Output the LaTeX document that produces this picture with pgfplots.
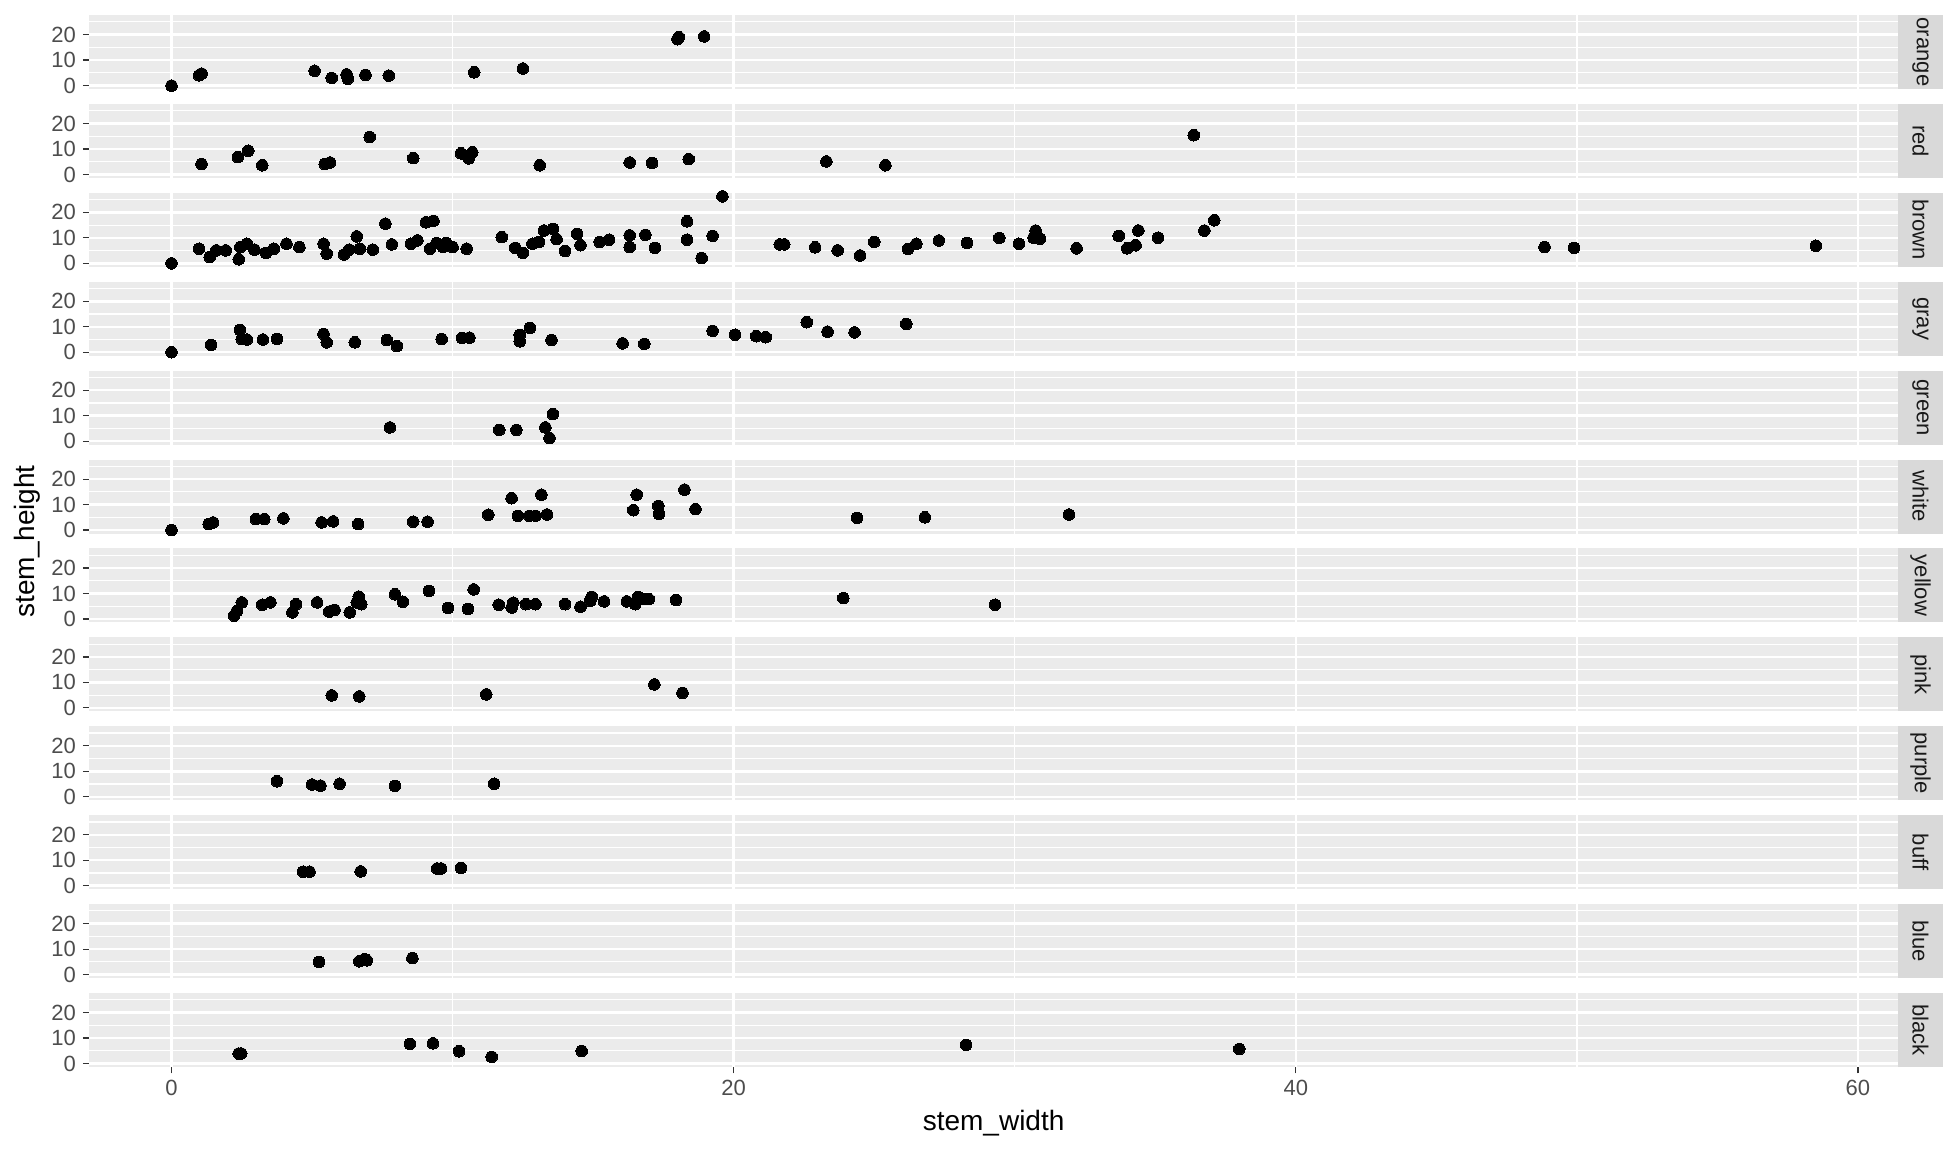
\documentclass[border=0pt]{standalone}
\usepackage{fontspec}
\setmainfont{Liberation Sans}
\usepackage{pgfplots}
\pgfplotsset{compat=1.18}

\definecolor{panelbg}{HTML}{EBEBEB}
\definecolor{stripbg}{HTML}{D9D9D9}
\definecolor{ticktext}{HTML}{4D4D4D}
\definecolor{tickmark}{HTML}{333333}
\definecolor{striptext}{HTML}{1A1A1A}

\pgfplotsset{
  panel/.style={
    scale only axis, width=904.35pt, height=37pt, anchor=south west,
    xmin=-2.925, xmax=61.425, ymin=-1.35, ymax=27.7,
    axis background/.style={fill=panelbg},
    axis line style={draw=none},
    xtick={0,20,40,60}, minor xtick={10,30,50},
    ytick={0,10,20}, minor ytick={5,15,25},
    grid=both,
    major grid style={white, line width=1.2pt},
    minor grid style={white, line width=0.6pt},
    tick align=outside, xtick pos=bottom, ytick pos=left,
    major tick length=3.2pt, minor tick length=0pt,
    tick style={tickmark, line width=0.6pt},
    xticklabels={}, xtick style={draw=none},
    ticklabel style={font=\fontsize{11}{11}\selectfont, text=ticktext},
    /pgf/number format/assume math mode=true,
  },
  pts/.style={only marks, mark=*, mark size=2.9pt, black, mark options={line width=0pt}},
}

\begin{document}
\begin{tikzpicture}
\useasboundingbox (0,0) rectangle (979pt,-576pt);

% orange
\begin{axis}[panel, at={(44.65pt,-44.5pt)}, name=p0]
\addplot[pts] table {
0 0
0.98 4.0
1.07 4.7
5.09 5.8
5.7 3.0
6.23 4.4
6.27 2.7
6.9 4.2
7.73 3.9
10.77 5.2
12.5 6.7
18.0 18.2
18.05 19.0
18.95 19.3
};
\end{axis}

% red
\begin{axis}[panel, at={(44.65pt,-88.95pt)}, name=p1]
\addplot[pts] table {
1.07 4.1
2.36 6.8
2.73 9.3
3.23 3.6
5.45 4.1
5.64 4.7
7.05 14.7
8.6 6.4
10.3 8.3
10.57 6.3
10.7 8.7
13.1 3.6
16.3 4.7
17.1 4.5
18.4 6.0
23.3 5.1
25.4 3.6
36.37 15.4
};
\end{axis}

% brown
\begin{axis}[panel, at={(44.65pt,-133.4pt)}, name=p2]
\addplot[pts] table {
0 0
0.98 5.75
1.36 2.5
1.59 5.1
1.93 5.1
2.39 1.6
2.45 6.4
2.68 7.7
2.95 5.4
3.36 4.1
3.64 5.75
4.09 7.7
4.55 6.4
5.41 7.7
5.52 3.8
6.14 3.5
6.32 5.4
6.59 10.6
6.7 5.75
7.16 5.4
7.61 15.6
7.84 7.45
8.52 7.7
8.75 9.0
9.05 16.1
9.32 16.7
9.2 5.75
9.43 8.0
9.66 6.4
9.77 8.0
10.0 6.4
10.5 5.75
11.75 10.3
12.23 6.1
12.5 4.1
12.84 7.7
13.07 8.4
13.25 12.9
13.57 13.5
13.7 9.5
14.0 4.8
14.43 11.6
14.55 7.1
15.23 8.4
15.57 9.3
16.3 11.0
16.3 6.4
16.86 11.2
17.2 6.1
18.34 16.5
18.34 9.3
18.86 2.1
19.25 10.8
19.6 26.3
21.64 7.45
21.8 7.45
22.9 6.3
23.7 5.1
24.5 3.1
25.0 8.4
26.2 5.6
26.5 7.7
27.3 9.0
28.3 8.0
29.45 10.0
30.15 7.7
30.74 12.9
30.67 10.1
30.9 9.7
32.2 5.9
33.7 10.8
34.0 5.9
34.3 7.1
34.4 12.9
35.1 10.1
36.75 12.9
37.1 16.9
48.85 6.4
49.9 6.1
58.5 6.9
};
\end{axis}

% gray
\begin{axis}[panel, at={(44.65pt,-177.85pt)}, name=p3]
\addplot[pts] table {
0 0
1.41 2.9
2.43 8.8
2.5 5.2
2.68 5.0
3.25 5.0
3.75 5.2
5.41 7.2
5.52 3.9
6.52 3.9
7.66 4.8
8.02 2.4
9.61 5.2
10.34 5.6
10.6 5.75
12.39 6.8
12.39 4.3
12.75 9.5
13.52 4.8
16.05 3.5
16.82 3.3
19.25 8.4
20.05 6.9
20.8 6.3
21.14 5.9
22.6 11.8
23.34 8.1
24.3 7.8
26.14 11.1
};
\end{axis}

% green
\begin{axis}[panel, at={(44.65pt,-222.3pt)}, name=p4]
\addplot[pts] table {
7.77 5.4
11.66 4.4
12.27 4.4
13.3 5.4
13.45 1.2
13.57 10.6
};
\end{axis}

% white
\begin{axis}[panel, at={(44.65pt,-266.75pt)}, name=p5]
\addplot[pts] table {
0 0
1.32 2.35
1.48 3.0
3.0 4.3
3.3 4.3
3.98 4.6
5.34 3.0
5.75 3.4
6.64 2.35
8.6 3.3
9.11 3.3
11.27 6.0
12.1 12.5
12.32 5.6
12.73 5.6
12.95 5.6
13.16 13.9
13.36 6.1
16.43 7.8
16.55 13.9
17.32 9.5
17.34 6.3
18.25 15.9
18.64 8.2
24.39 4.8
26.8 5.0
31.93 6.1
};
\end{axis}

% yellow
\begin{axis}[panel, at={(44.65pt,-311.2pt)}, name=p6]
\addplot[pts] table {
2.23 1.3
2.32 3.0
2.5 6.5
3.23 5.6
3.52 6.5
4.3 2.6
4.43 5.8
5.18 6.5
5.61 2.9
5.8 3.6
6.34 2.6
6.59 6.5
6.66 8.8
6.75 5.8
7.95 9.7
8.23 6.75
9.16 11.0
9.84 4.3
10.55 3.9
10.75 11.6
11.64 5.6
12.1 4.5
12.16 6.4
12.61 5.8
12.95 5.8
14.0 5.8
14.55 4.8
14.95 8.7
14.9 7.1
15.39 6.9
16.2 6.9
16.5 5.8
16.6 8.7
16.8 7.8
16.98 7.8
17.95 7.4
23.9 8.2
29.3 5.6
};
\end{axis}

% pink
\begin{axis}[panel, at={(44.65pt,-355.65pt)}, name=p7]
\addplot[pts] table {
5.7 4.9
6.68 4.5
11.2 5.3
17.18 9.2
18.18 5.9
};
\end{axis}

% purple
\begin{axis}[panel, at={(44.65pt,-400.1pt)}, name=p8]
\addplot[pts] table {
3.75 6.1
5.0 4.8
5.3 4.4
5.98 5.1
7.95 4.3
11.48 5.1
};
\end{axis}

% buff
\begin{axis}[panel, at={(44.65pt,-444.55pt)}, name=p9]
\addplot[pts] table {
4.68 5.5
4.91 5.5
6.73 5.6
9.45 6.75
9.59 6.75
10.3 6.9
};
\end{axis}

% blue
\begin{axis}[panel, at={(44.65pt,-489.0pt)}, name=p10]
\addplot[pts] table {
5.25 4.9
6.68 5.2
6.86 6.0
6.95 5.6
8.57 6.5
};
\end{axis}

% black
\begin{axis}[panel, at={(44.65pt,-533.45pt)}, name=p11,
  xticklabels={0,20,40,60}, xtick style={draw=tickmark}]
\addplot[pts] table {
2.39 3.9
2.48 3.9
8.48 7.7
9.3 7.9
10.23 4.8
11.39 2.6
14.59 4.9
28.27 7.3
37.99 5.7
};
\end{axis}

\foreach \k/\lab in {0/orange,1/red,2/brown,3/gray,4/green,5/white,6/yellow,7/pink,8/purple,9/buff,10/blue,11/black} {
  \fill[stripbg] (p\k.south east) rectangle ([xshift=22.5pt]p\k.north east);
  \node[rotate=-90, text=striptext, font=\fontsize{11}{11}\selectfont, inner sep=0pt]
    at ([xshift=11.25pt]p\k.east) {\lab};
}

\node[font=\fontsize{14}{14}\selectfont] at (496.8pt,-561.5pt) {stem\_width};
\node[font=\fontsize{14}{14}\selectfont, rotate=90] at (13.75pt,-270.75pt) {stem\_height};
\end{tikzpicture}
\end{document}
